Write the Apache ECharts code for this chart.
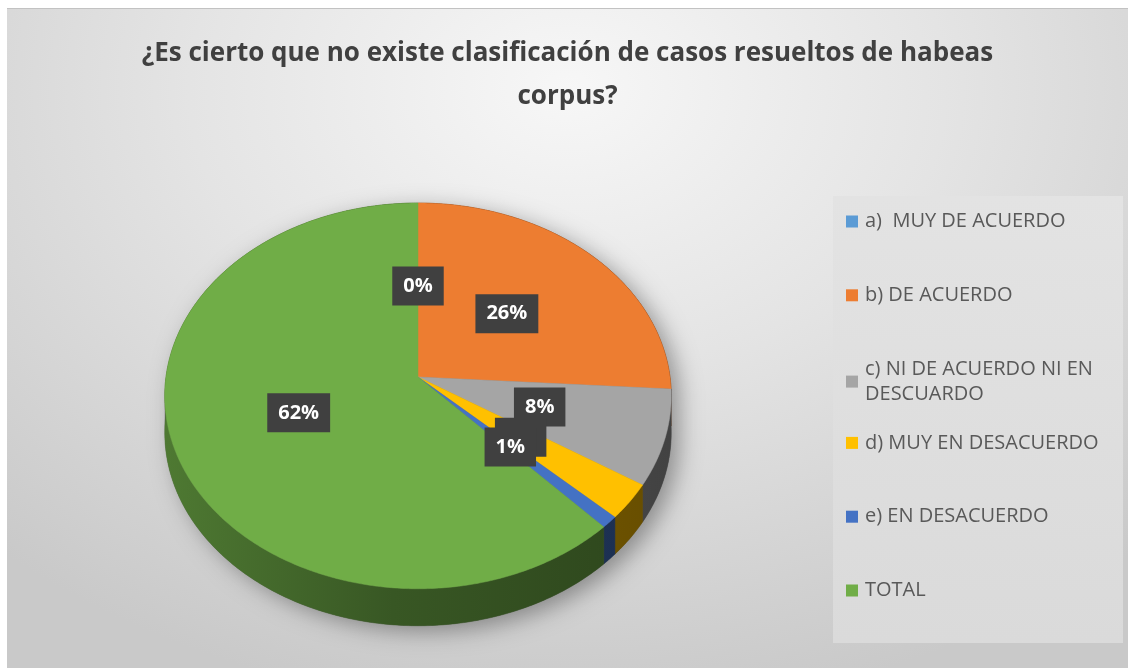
<!DOCTYPE html>
<html>
<head>
<meta charset="utf-8">
<script src="https://cdn.jsdelivr.net/npm/echarts@6/dist/echarts.min.js"></script>
<style>
  html, body { margin: 0; padding: 0; background: #fff; }
  #main {
    position: absolute; left: 7px; top: 8px; width: 1121px; height: 660px;
    border-top: 1px solid #c2c2c2;
    background: radial-gradient(ellipse 75% 95% at 50% 12%, #f7f7f7 0%, #e4e4e4 45%, #c9c9c9 100%);
  }
</style>
</head>
<body>
<div id="main"></div>
<script>
// datos (porcentajes)
const categories = ['a)  MUY DE ACUERDO', 'b) DE ACUERDO', 'c) NI DE ACUERDO NI EN\nDESCUARDO', 'd) MUY EN DESACUERDO', 'e) EN DESACUERDO', 'TOTAL']
const values = [0, 26, 8, 3, 1, 62]
const colors = ['#5B9BD5', '#ED7D31', '#A5A5A5', '#FFC000', '#4472C4', '#70AD47']
const titleText = '¿Es cierto que no existe clasificación de casos resueltos de habeas\ncorpus?'

// geometría del pastel 3D (perspectiva simple)
const PIE = { cx: 411, cy: 368, a: 252, b: 191, k: 0.098, depth: 37, labelR: 0.5 }

const total = values.reduce((s, v) => s + v, 0)

// proyecta un punto del disco (radio relativo r, ángulo t desde arriba en sentido horario)
const proj = (r, t) => {
  const X = r * Math.sin(t)
  const Z = r * Math.cos(t)
  const w = 1 / (1 + PIE.k * Z)
  return [PIE.cx + PIE.a * X * w, PIE.cy - PIE.b * Z * w]
}

// oscurece un color hex mezclándolo con negro
const darken = (hex, f) => {
  const n = parseInt(hex.slice(1), 16)
  const c = [n >> 16, (n >> 8) & 255, n & 255].map(v => Math.round(v * (1 - f)))
  return 'rgb(' + c.join(',') + ')'
}

const sideFill = (color) => ({
  type: 'linear', global: true,
  x: PIE.cx - PIE.a, y: 0, x2: PIE.cx + PIE.a, y2: 0,
  colorStops: [
    { offset: 0, color: darken(color, 0.3) },
    { offset: 0.45, color: darken(color, 0.5) },
    { offset: 1, color: darken(color, 0.6) }
  ]
})

const renderSlice = (i) => (params, api) => {
  const start = values.slice(0, i).reduce((s, v) => s + v, 0) / total * Math.PI * 2
  const end = start + values[i] / total * Math.PI * 2
  const children = []

  // sombra de todo el pastel (solo una vez)
  if (i === 0) {
    const outline = []
    for (let j = 0; j < 360; j++) {
      const t = j / 360 * Math.PI * 2
      const p = proj(1, t)
      if (Math.cos(t) < -PIE.k) p[1] += PIE.depth
      outline.push(p)
    }
    children.push({
      type: 'polygon', z2: 0, shape: { points: outline },
      style: { fill: '#555', shadowBlur: 22, shadowColor: 'rgba(0,0,0,0.35)', shadowOffsetX: 8, shadowOffsetY: 6 }
    })
  }

  if (end > start) {
    const n = Math.max(2, Math.ceil((end - start) / 0.01))
    const top = [[PIE.cx, PIE.cy]]
    const rimTop = []
    const rimBottom = []
    for (let j = 0; j <= n; j++) {
      const p = proj(1, start + (end - start) * j / n)
      top.push(p)
      rimTop.push(p)
      rimBottom.push([p[0], p[1] + PIE.depth])
    }
    children.push({
      type: 'polygon', z2: 1,
      shape: { points: rimTop.concat(rimBottom.reverse()) },
      style: { fill: sideFill(colors[i]), stroke: sideFill(colors[i]), lineWidth: 0.5 }
    })
    children.push({
      type: 'polygon', z2: 2, shape: { points: top },
      style: { fill: colors[i], stroke: colors[i], lineWidth: 0.5 }
    })
  }

  const lp = proj(PIE.labelR, (start + end) / 2)
  children.push({
    type: 'text', z2: 10 + i, x: lp[0], y: lp[1],
    style: {
      text: Math.round(values[i] / total * 100) + '%',
      fill: '#fff', font: 'bold 20px "Open Sans"',
      align: 'center', verticalAlign: 'middle',
      backgroundColor: '#404040', padding: [10, 11, 9, 11],
      boxShadowBlur: 6, boxShadowColor: 'rgba(0,0,0,0.45)', boxShadowOffsetX: 2, boxShadowOffsetY: 2
    }
  })
  return { type: 'group', children }
}

const chart = echarts.init(document.getElementById('main'))
chart.setOption({
  animation: false,
  title: {
    text: titleText, left: 'center', top: 18,
    textStyle: { fontFamily: 'Open Sans', fontWeight: 'bold', fontSize: 26, color: '#404040', lineHeight: 43 }
  },
  graphic: [{
    type: 'rect', left: 826, top: 187, z: 0,
    shape: { width: 290, height: 447 },
    style: {
      fill: { type: 'linear', x: 0, y: 0, x2: 0, y2: 1, colorStops: [{ offset: 0, color: '#e3e3e3' }, { offset: 1, color: '#dadada' }] }
    }
  }],
  legend: categories.map((name, i) => ({
    data: [name], orient: 'vertical', left: 839, top: 200 + i * 73.8, padding: 0,
    icon: 'rect', itemWidth: 12, itemHeight: 12,
    textStyle: { fontFamily: 'Open Sans', fontSize: 20, color: '#595959', lineHeight: 25, padding: [0, 0, 0, 2] }
  })),
  series: categories.map((name, i) => ({
    type: 'custom', name, coordinateSystem: 'none',
    itemStyle: { color: colors[i] },
    data: [values[i]],
    renderItem: renderSlice(i)
  }))
})
</script>
</body>
</html>
